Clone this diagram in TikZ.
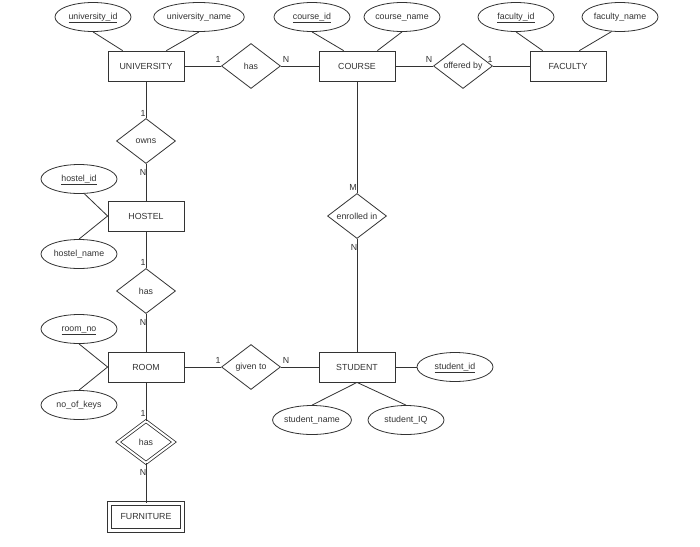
\documentclass[tikz,border=0pt]{standalone}
\usepackage{fontspec}
\setmainfont{Liberation Sans}
\usetikzlibrary{shapes.geometric}
\usetikzlibrary{positioning}
\definecolor{mgray}{rgb}{0.2, 0.2, 0.2}

\begin{document}
\begin{tikzpicture}[x=1pt, y=-1pt, font=\fontsize{8.8}{10}\selectfont, color=mgray, line width=0.8pt,
    entity/.style={draw, minimum width=76pt, minimum height=30pt, inner sep=0pt},
    weakentity/.style={draw, double, double distance=2.5pt, minimum width=73pt, minimum height=27pt, inner sep=0pt},
    attr/.style={draw, ellipse, minimum width=76pt, minimum height=29pt, inner sep=0pt, text height=6.5pt, text depth=2pt},
    rel/.style={draw, diamond, aspect=1.3, minimum width=59pt, minimum height=45pt, inner sep=0pt},
    weakrel/.style={draw, diamond, double, double distance=2pt, aspect=1.3, minimum width=56pt, minimum height=42pt, inner sep=0pt},
    card/.style={inner sep=0pt}]
    \fill [white] (0, 0) rectangle (700, 546);
    \useasboundingbox (0, 0) rectangle (700, 546);

    % entities and relationships
    \node [entity] (univ) at (146, 66) {UNIVERSITY};
    \node [rel] (has1) at (251, 66) {has};
    \node [entity] (course) at (357, 66) {COURSE};
    \node [rel] (offered) at (463, 66) {offered by};
    \node [entity] (faculty) at (568, 66) {FACULTY};
    \node [rel] (owns) at (146, 141) {owns};
    \node [entity] (hostel) at (146, 216) {HOSTEL};
    \node [rel] (has2) at (146, 291) {has};
    \node [entity] (room) at (146, 367) {ROOM};
    \node [rel] (given) at (251, 367) {given to};
    \node [entity] (student) at (357, 367) {STUDENT};
    \node [rel] (enrolled) at (357, 216) {enrolled in};
    \node [weakrel] (has3) at (146, 442) {has};
    \node [weakentity] (furniture) at (146, 517) {FURNITURE};

    % attributes
    \node [attr] (univid) at (93, 17) {\underline{university\_id}};
    \node [attr] (univname) at (199, 17) {university\_name};
    \node [attr] (courseid) at (312, 17) {\underline{course\_id}};
    \node [attr] (coursename) at (402, 17) {course\_name};
    \node [attr] (facid) at (516, 17) {\underline{faculty\_id}};
    \node [attr] (facname) at (620, 17) {faculty\_name};
    \node [attr] (hostelid) at (79, 179) {\underline{hostel\_id}};
    \node [attr] (hostelname) at (79, 254) {hostel\_name};
    \node [attr] (roomno) at (79, 329) {\underline{room\_no}};
    \node [attr] (keys) at (79, 405) {no\_of\_keys};
    \node [attr] (studid) at (455, 367) {\underline{student\_id}};
    \node [attr] (studname) at (312, 420) {student\_name};
    \node [attr] (studiq) at (406, 420) {student\_IQ};

    \draw (univ) -- (has1) -- (course) -- (offered) -- (faculty);
    \draw (univ) -- (owns) -- (hostel) -- (has2) -- (room) -- (has3) -- (furniture);
    \draw (room) -- (given) -- (student);
    \draw (course) -- (enrolled) -- (student);

    \draw (univid.south) -- ([xshift=15pt]univ.north west);
    \draw (univname.south) -- ([xshift=-18pt]univ.north east);
    \draw (courseid.south) -- ([xshift=25pt]course.north west);
    \draw (coursename.south) -- ([xshift=-18pt]course.north east);
    \draw (facid.south) -- ([xshift=13pt]faculty.north west);
    \draw (facname.240) -- ([xshift=-27pt]faculty.north east);
    \draw (hostelid.-70) -- (hostel.west);
    \draw (hostelname.north) -- (hostel.west);
    \draw (roomno.south) -- (room.west);
    \draw (keys.north) -- (room.west);
    \draw (student) -- (studid);
    \draw (student.south) -- (studname.north);
    \draw (student.south) -- (studiq.north);

    % cardinalities
    \node [card] (c1) at (218, 59) {1};
    \node [card] (c2) at (286, 59) {N};
    \node [card] (c3) at (429, 59) {N};
    \node [card] (c4) at (490, 59) {1};
    \node [card] (c5) at (143, 113) {1};
    \node [card] (c6) at (143, 172) {N};
    \node [card] (c7) at (353, 187) {M};
    \node [card] (c8) at (354, 247) {N};
    \node [card] (c9) at (143, 262) {1};
    \node [card] (c10) at (143, 322) {N};
    \node [card] (c11) at (218, 360) {1};
    \node [card] (c12) at (286, 360) {N};
    \node [card] (c13) at (143, 413) {1};
    \node [card] (c14) at (143, 472) {N};
\end{tikzpicture}
\end{document}
